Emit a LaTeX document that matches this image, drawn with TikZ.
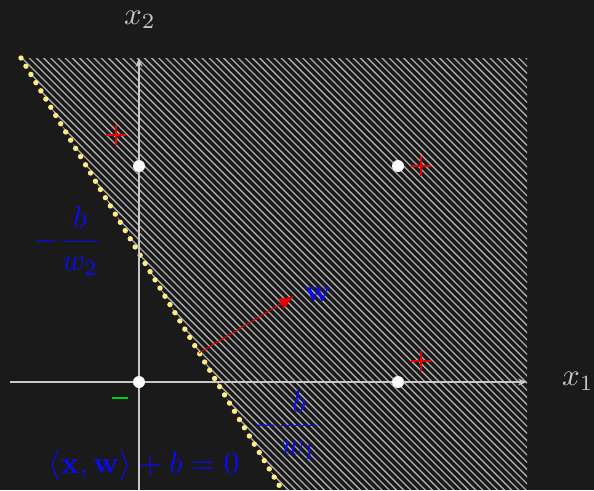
\documentclass[tikz,border=0pt]{standalone}
\usetikzlibrary{arrows.meta}
\definecolor{bg}{HTML}{1A1A1A}
\definecolor{hatchc}{RGB}{170,170,170}
\definecolor{axisc}{RGB}{200,200,200}
\definecolor{dotc}{RGB}{255,236,130}
\definecolor{lblue}{RGB}{10,10,245}
\definecolor{pred}{RGB}{235,0,0}
\definecolor{pgreen}{RGB}{0,210,0}
\tikzset{
  hatch/.style={draw=hatchc,line width=1.3pt},
  axisline/.style={draw=axisc,line width=1.4pt,-{Stealth[length=9pt,width=7pt]}},
  sepline/.style={draw=dotc,line width=5.4pt,line cap=round,dash pattern=on 0pt off 9.6pt},
  datadot/.style={circle,fill=white,inner sep=0pt,minimum size=12pt},
  bigfont/.style={scale=3.1},
  lbl/.style={bigfont,text=lblue,inner sep=0pt},
  axlbl/.style={bigfont,text=axisc,inner sep=0pt},
  pplus/.pic={\draw[pred,line width=2.6pt] (-10,0)--(10,0) (0,-10)--(0,10);},
  pminus/.pic={\draw[pgreen,line width=2.6pt] (-8,0)--(8,0);}
}
\begin{document}
\begin{tikzpicture}[x=1pt,y=-1pt]
\fill[bg] (0,0) rectangle (594,490);
\useasboundingbox (0,0) rectangle (594,490);
% hatched half-plane
\begin{scope}
\clip (21,58) -- (527,58) -- (527,490) -- (282,490) -- cycle;
\foreach \i in {-70,...,76} { \draw[hatch] (\i*7.2,0) -- ++(600,600); }
\end{scope}
% separating line
\coordinate (s1) at (21,58);
\coordinate (s2) at (282,490);
\draw[sepline] (s1) -- (s2);
% axes
\coordinate (xa0) at (10,382);
\coordinate (xa1) at (527,382);
\coordinate (ya0) at (139,490);
\coordinate (ya1) at (139,58);
\draw[axisline] (xa0) -- (xa1);
\draw[axisline] (ya0) -- (ya1);
\node[axlbl] (lx1) at (578,381) {$x_1$};
\node[axlbl] (lx2) at (140,20) {$x_2$};
% data points
\node[datadot] (p00) at (139,382) {};
\node[datadot] (p10) at (398,382) {};
\node[datadot] (p01) at (139,166) {};
\node[datadot] (p11) at (398,166) {};
% class marks
\pic at (116,135) {pplus};
\pic at (421,166) {pplus};
\pic at (421,361) {pplus};
\pic at (120,398) {pminus};
% normal vector
\coordinate (ws) at (199,353);
\coordinate (wt) at (294,296);
\draw[pred,line width=1pt,-{Latex[length=15pt,width=12pt]}] (ws) -- (wt);
\node[lbl] (lw) at (318,295) {$\mathbf{w}$};
% intercept labels
\node[lbl] (lb2) at (68,241) {$\displaystyle-\frac{b}{w_2}$};
\node[lbl] (lb1) at (287,425) {$\displaystyle-\frac{b}{w_1}$};
\node[lbl] (leq) at (144,466) {$\langle\mathbf{x},\mathbf{w}\rangle+b=0$};
\end{tikzpicture}
\end{document}
